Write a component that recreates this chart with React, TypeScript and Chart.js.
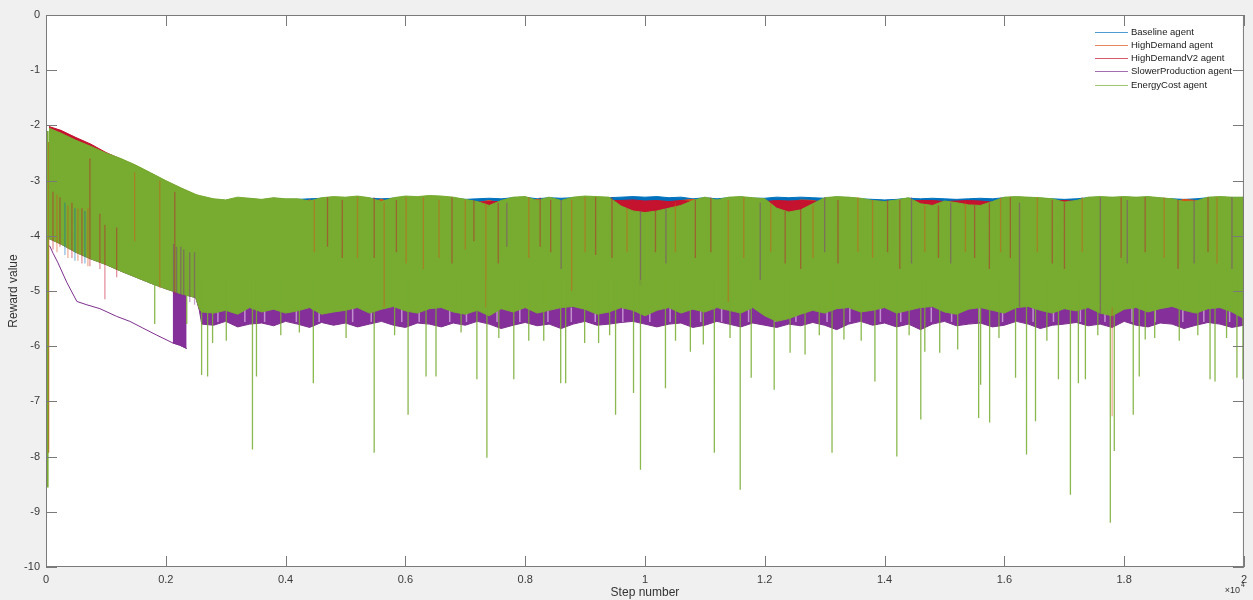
import React, { useEffect, useRef } from "react";
import { Chart, registerables } from "chart.js";

Chart.register(...registerables);

// ---------------- data ----------------
const SERIES_NAMES = [
  "Baseline agent",
  "HighDemand agent",
  "HighDemandV2 agent",
  "SlowerProduction agent",
  "EnergyCost agent",
];
const SERIES_COLORS = ["#0072BD", "#D95319", "#C4122F", "#7E2F8E", "#77AC30"];

const X_TICK_LABELS = ["0", "0.2", "0.4", "0.6", "0.8", "1", "1.2", "1.4", "1.6", "1.8", "2"];
const Y_TICK_LABELS = ["-10", "-9", "-8", "-7", "-6", "-5", "-4", "-3", "-2", "-1", "0"];

// envelope anchor steps
const STEPS = [
  50, 250, 500, 750, 1000, 1250, 1500, 1750, 2000, 2250, 2500, 2560, 2600,
  2800, 3000, 3200, 3400, 3600, 3800, 4000, 4200, 4400, 4600,
  4800, 5000, 5200, 5400, 5600, 5800, 6000, 6200, 6400, 6600,
  6800, 7000, 7200, 7400, 7600, 7800, 8000, 8200, 8400, 8600,
  8800, 9000, 9200, 9400, 9600, 9800, 10000, 10200, 10400, 10600,
  10800, 11000, 11200, 11400, 11600, 11800, 12000, 12200, 12400, 12600,
  12800, 13000, 13200, 13400, 13600, 13800, 14000, 14200, 14400, 14600,
  14800, 15000, 15200, 15400, 15600, 15800, 16000, 16200, 16400, 16600,
  16800, 17000, 17200, 17400, 17600, 17800, 18000, 18200, 18400, 18600,
  18800, 19000, 19200, 19400, 19600, 19800, 20000,
];

// EnergyCost agent: upper / lower envelope
const GREEN_HI = [
  -2.05, -2.14, -2.27, -2.38, -2.5, -2.6, -2.72, -2.86, -3.0, -3.13, -3.25, -3.27, -3.28,
  -3.33, -3.35, -3.3, -3.32, -3.34, -3.31, -3.33, -3.33, -3.37, -3.31,
  -3.29, -3.3, -3.28, -3.31, -3.38, -3.31, -3.28, -3.29, -3.27, -3.28,
  -3.3, -3.34, -3.38, -3.45, -3.36, -3.3, -3.29, -3.36, -3.3, -3.36,
  -3.3, -3.28, -3.29, -3.3, -3.46, -3.55, -3.58, -3.55, -3.5, -3.45,
  -3.36, -3.3, -3.35, -3.3, -3.29, -3.31, -3.33, -3.5, -3.57, -3.53,
  -3.42, -3.31, -3.29, -3.3, -3.32, -3.36, -3.38, -3.35, -3.31, -3.42,
  -3.45, -3.37, -3.4, -3.44, -3.45, -3.38, -3.3, -3.29, -3.3, -3.31,
  -3.33, -3.39, -3.36, -3.3, -3.29, -3.3, -3.29, -3.3, -3.29, -3.31,
  -3.33, -3.38, -3.37, -3.3, -3.29, -3.3, -3.3,
];
const GREEN_LO = [
  -4.05, -4.15, -4.3, -4.42, -4.52, -4.64, -4.75, -4.86, -4.96, -5.05, -5.12, -5.32, -5.38,
  -5.4, -5.35, -5.42, -5.3, -5.38, -5.33, -5.4, -5.36, -5.3, -5.42,
  -5.38, -5.35, -5.3, -5.4, -5.33, -5.28, -5.36, -5.4, -5.32, -5.3,
  -5.38, -5.42, -5.35, -5.45, -5.32, -5.38, -5.3, -5.4, -5.35, -5.3,
  -5.28, -5.33, -5.42, -5.38, -5.3, -5.35, -5.45, -5.35, -5.3, -5.4,
  -5.33, -5.38, -5.3, -5.35, -5.4, -5.3, -5.45, -5.55, -5.5, -5.42,
  -5.35, -5.4, -5.32, -5.3, -5.38, -5.35, -5.3, -5.4, -5.35, -5.3,
  -5.28, -5.38, -5.42, -5.33, -5.3, -5.35, -5.4, -5.3, -5.28, -5.35,
  -5.4, -5.32, -5.36, -5.3, -5.4, -5.45, -5.33, -5.3, -5.38, -5.32,
  -5.28, -5.35, -5.4, -5.32, -5.3, -5.38, -5.5,
];

// SlowerProduction agent: lower envelope
const PURPLE_LO = [
  -4.05, -4.15, -4.3, -4.42, -4.52, -4.64, -4.75, -4.86, -4.96, -5.05, -5.12, -5.35, -5.6,
  -5.62, -5.55, -5.65, -5.6, -5.58, -5.63, -5.55, -5.6, -5.66, -5.57,
  -5.62, -5.58, -5.65, -5.6, -5.55, -5.62, -5.66, -5.58, -5.6, -5.65,
  -5.58, -5.62, -5.55, -5.6, -5.68, -5.62, -5.57, -5.63, -5.6, -5.68,
  -5.6, -5.55, -5.62, -5.6, -5.57, -5.55, -5.6, -5.65, -5.6, -5.58,
  -5.66, -5.62, -5.55, -5.6, -5.65, -5.58, -5.62, -5.66, -5.6, -5.63,
  -5.57, -5.62, -5.7, -5.6, -5.55, -5.62, -5.58, -5.65, -5.6, -5.7,
  -5.6, -5.55, -5.63, -5.6, -5.58, -5.65, -5.62, -5.55, -5.6, -5.68,
  -5.62, -5.6, -5.57, -5.63, -5.6, -5.66, -5.55, -5.62, -5.65, -5.58,
  -5.6, -5.68, -5.62, -5.57, -5.6, -5.66, -5.62,
];
// early slow decline of SlowerProduction agent
const PURPLE_TREND_X = [60, 120, 200, 350, 516, 683, 900, 1180, 1400, 1615, 1850, 2115, 2230, 2348];
const PURPLE_TREND_Y = [-4.18, -4.32, -4.49, -4.85, -5.19, -5.25, -5.32, -5.46, -5.55, -5.67, -5.8, -5.94, -5.98, -6.04];
const PURPLE_BLOCK_X = [2115, 2230, 2348];
const PURPLE_BLOCK_HI = [-4.15, -4.25, -4.3];
const PURPLE_BLOCK_LO = [-5.94, -5.98, -6.04];
// steps where the SlowerProduction trace leaves its lower band (pale gaps)
const PURPLE_GAP_X = [
  2870, 3320, 3650, 4180, 4560, 5120, 5430, 5940, 6230, 6740,
  7020, 7530, 7910, 8380, 8770, 9170, 9630, 10080, 10420, 10930,
  11280, 11730, 12170, 12520, 13040, 13420, 13930, 14270, 14780, 15120,
  15580, 15970, 16480, 16820, 17270, 17680, 18130, 18520, 18980, 19330,
  19760,
];
const PURPLE_GAP_TOP = -5.3;
const PURPLE_GAP_BOT = -5.56;

// HighDemandV2, HighDemand, Baseline: upper envelopes
const RED_HI = [
  -2.02, -2.09, -2.22, -2.34, -2.49, -2.61, -2.73, -2.87, -3.01, -3.14, -3.26, -3.28, -3.29,
  -3.38, -3.4, -3.36, -3.37, -3.39, -3.36, -3.38, -3.38, -3.38, -3.37,
  -3.36, -3.37, -3.36, -3.38, -3.4, -3.37, -3.35, -3.36, -3.35, -3.36,
  -3.37, -3.38, -3.39, -3.38, -3.38, -3.36, -3.36, -3.38, -3.37, -3.38,
  -3.37, -3.36, -3.37, -3.36, -3.36, -3.35, -3.37, -3.36, -3.38, -3.36,
  -3.38, -3.37, -3.38, -3.37, -3.36, -3.37, -3.38, -3.36, -3.37, -3.36,
  -3.37, -3.38, -3.36, -3.37, -3.38, -3.37, -3.38, -3.38, -3.37, -3.36,
  -3.36, -3.38, -3.37, -3.36, -3.37, -3.39, -3.37, -3.36, -3.37, -3.38,
  -3.37, -3.36, -3.38, -3.37, -3.36, -3.37, -3.36, -3.37, -3.36, -3.38,
  -3.39, -3.4, -3.38, -3.37, -3.36, -3.37, -3.37,
];
const ORANGE_HI = [
  -2.1, -2.2, -2.32, -2.43, -2.54, -2.64, -2.76, -2.9, -3.04, -3.17, -3.29, -3.31, -3.32,
  -3.42, -3.42, -3.4, -3.41, -3.42, -3.4, -3.41, -3.42, -3.35, -3.41,
  -3.4, -3.41, -3.4, -3.4, -3.34, -3.41, -3.4, -3.41, -3.4, -3.4,
  -3.41, -3.42, -3.4, -3.36, -3.41, -3.4, -3.41, -3.34, -3.4, -3.41,
  -3.4, -3.41, -3.4, -3.41, -3.4, -3.41, -3.42, -3.4, -3.41, -3.36,
  -3.34, -3.4, -3.41, -3.4, -3.41, -3.4, -3.41, -3.4, -3.41, -3.35,
  -3.36, -3.41, -3.4, -3.41, -3.4, -3.41, -3.4, -3.41, -3.4, -3.36,
  -3.37, -3.4, -3.41, -3.4, -3.41, -3.4, -3.41, -3.4, -3.41, -3.4,
  -3.41, -3.36, -3.4, -3.41, -3.4, -3.41, -3.4, -3.41, -3.4, -3.41,
  -3.4, -3.34, -3.36, -3.41, -3.4, -3.41, -3.4,
];
const BLUE_HI = [
  -2.08, -2.18, -2.3, -2.41, -2.52, -2.62, -2.74, -2.88, -3.02, -3.15, -3.27, -3.29, -3.3,
  -3.34, -3.36, -3.32, -3.33, -3.35, -3.32, -3.34, -3.34, -3.33, -3.32,
  -3.31, -3.32, -3.3, -3.32, -3.33, -3.32, -3.3, -3.31, -3.29, -3.3,
  -3.32, -3.34, -3.33, -3.32, -3.33, -3.31, -3.3, -3.33, -3.31, -3.32,
  -3.31, -3.3, -3.31, -3.31, -3.3, -3.29, -3.3, -3.29, -3.31, -3.3,
  -3.33, -3.31, -3.33, -3.31, -3.3, -3.32, -3.32, -3.3, -3.31, -3.3,
  -3.31, -3.32, -3.3, -3.31, -3.33, -3.34, -3.35, -3.34, -3.32, -3.33,
  -3.32, -3.33, -3.34, -3.33, -3.32, -3.33, -3.31, -3.3, -3.31, -3.32,
  -3.33, -3.34, -3.33, -3.31, -3.3, -3.31, -3.3, -3.31, -3.3, -3.32,
  -3.33, -3.34, -3.33, -3.31, -3.3, -3.31, -3.31,
];

// first samples (start-up transient)
const GREEN_FIRST_X = [30, 30];
const GREEN_FIRST_Y = [-2.1, -8.56];
const ORANGE_FIRST_X = [42, 42];
const ORANGE_FIRST_Y = [-2.3, -7.93];

// EnergyCost agent downward spikes: step and minimum reward
const SPIKE_TOP = -4.8;
const GREEN_SPIKE_X = [
  1815, 2350, 2598, 2698, 2781, 3447, 3514, 4463, 5479, 6045,
  6345, 6511, 7194, 7361, 7810, 8060, 8593, 8676, 8993, 9226,
  9509, 9809, 9925, 10342, 10758, 10974, 11158, 11590, 11774, 12157,
  12423, 12673, 13123, 13322, 13839, 14205, 14605, 14672, 14921, 15221,
  15571, 15604, 15754, 16187, 16370, 16520, 16903, 17103, 17236, 17353,
  17769, 17835, 18152, 18252, 18352, 19434, 19517, 19883, 19983,
  3010, 3920, 4230, 5010, 5820, 6930, 7560, 8310, 9410, 10510,
  11420, 12910, 13610, 14410, 15910, 16710, 17560, 18510, 18920, 19230, 19710,
];
const GREEN_SPIKE_Y = [
  -5.6, -5.6, -6.52, -6.55, -5.94, -7.87, -6.55, -6.67, -7.93, -7.24,
  -6.55, -6.55, -6.6, -8.02, -6.6, -5.9, -6.67, -6.67, -5.94, -5.94,
  -7.24, -6.85, -8.24, -6.76, -6.1, -5.97, -7.93, -8.6, -6.57, -6.79,
  -6.12, -6.15, -7.93, -5.88, -6.64, -8.0, -7.33, -6.1, -6.12, -6.06,
  -7.3, -6.7, -7.38, -6.57, -7.96, -7.36, -6.6, -8.69, -6.67, -6.6,
  -9.2, -7.9, -7.24, -6.55, -5.88, -6.6, -6.64, -6.57, -6.6,
  -5.9, -5.8, -5.75, -5.85, -5.8, -5.75, -5.85, -5.9, -5.8, -5.9,
  -5.85, -5.8, -5.9, -5.8, -5.85, -5.9, -5.8, -5.85, -5.9, -5.8, -5.85,
];

// samples of the other agents showing through the EnergyCost trace
const STREAK_X = [
  117, 183, 233, 316, 366, 433, 483, 533, 600, 650,
  700, 733, 900, 983, 1180, 1480, 1900, 2150, 2130, 2180,
  2250, 2300, 2400, 2480, 4480, 4946, 5479, 5646, 6012, 6561,
  6778, 7144, 7344, 7694, 8060, 8426, 8776, 9176, 9925, 10175,
  10508, 10841, 11391, 11924, 12340, 12806, 13222, 13555, 14255, 14672,
  15104, 15504, 15937, 16253, 17003, 17603, 17800, 18052, 18669, 19168,
  19550, 4700, 5200, 5850, 6300, 7000, 7550, 8250, 8600, 9000,
  9450, 9700, 10350, 11100, 11650, 12100, 12600, 13000, 13800, 14050,
  14450, 14900, 15350, 15750, 16100, 16550, 16800, 17300, 17950, 18350,
  18900, 19400, 19800,
];
const STREAK_TOP = [
  -3.2, -3.25, -3.3, -3.4, -3.45, -3.4, -3.5, -3.5, -3.5, -3.55,
  -3.5, -2.6, -3.6, -3.8, -3.85, -2.85, -3.0, -3.2, -4.15, -4.2,
  -4.2, -4.25, -4.3, -4.3, -3.35, -3.35, -3.3, -3.4, -3.3, -3.35,
  -3.3, -3.35, -3.4, -3.4, -3.3, -3.35, -3.35, -3.3, -3.55, -3.5,
  -3.4, -3.35, -3.35, -3.4, -3.55, -3.45, -3.35, -3.3, -3.35, -3.45,
  -3.4, -3.45, -3.3, -3.4, -3.4, -3.3, -5.3, -3.35, -3.3, -3.35,
  -3.3, -3.3, -3.3, -3.35, -3.3, -3.35, -3.4, -3.3, -3.35, -3.3,
  -3.3, -3.5, -3.5, -3.3, -3.3, -3.4, -3.5, -3.3, -3.35, -3.35,
  -3.3, -3.45, -3.4, -3.4, -3.3, -3.3, -3.35, -3.3, -3.3, -3.3,
  -3.35, -3.3, -3.3,
];
const STREAK_BOT = [
  -4.25, -4.3, -4.2, -4.35, -4.4, -4.4, -4.45, -4.45, -4.5, -4.5,
  -4.55, -4.55, -4.6, -5.15, -4.75, -4.1, -4.95, -5.05, -5.05, -5.1,
  -5.1, -5.1, -5.2, -5.25, -4.3, -4.4, -4.4, -5.3, -4.5, -4.4,
  -4.5, -4.1, -5.3, -4.2, -4.4, -4.3, -5.0, -4.35, -4.9, -4.3,
  -4.3, -4.4, -5.2, -4.8, -4.5, -4.4, -4.5, -4.3, -4.6, -4.3,
  -4.5, -4.4, -4.3, -5.3, -4.6, -5.4, -7.27, -4.5, -4.4, -4.5,
  -4.5, -4.2, -4.4, -4.3, -4.6, -4.25, -4.5, -4.2, -4.6, -4.3,
  -4.4, -4.3, -4.5, -4.3, -4.4, -4.3, -4.6, -4.3, -4.4, -4.3,
  -4.5, -4.4, -4.3, -4.6, -4.4, -4.3, -4.5, -4.3, -4.4, -4.3,
  -4.6, -4.3, -4.6,
];
const STREAK_AGENT = [
  2, 1, 2, 0, 1, 2, 0, 1, 2, 0,
  1, 2, 2, 2, 2, 1, 1, 2, 3, 3,
  3, 3, 3, 3, 1, 2, 2, 1, 1, 1,
  2, 2, 1, 3, 1, 2, 1, 2, 3, 2,
  1, 2, 1, 3, 2, 1, 2, 1, 2, 1,
  3, 2, 1, 3, 2, 3, 1, 3, 1, 3,
  1, 2, 1, 2, 1, 1, 2, 2, 3, 1,
  2, 1, 3, 2, 1, 1, 2, 3, 1, 2,
  3, 2, 1, 2, 2, 1, 2, 1, 2, 2,
  2, 2, 3,
];

// ---------------- helpers ----------------
const FONT = "'Liberation Sans', Arial, Helvetica, sans-serif";
const TICK_LEN = 11;

type P = { x: number; y: number | null };
function pts(xs: number[], ys: number[]): P[] {
  return xs.map((x, i) => ({ x, y: ys[i] }));
}
function segs(xs: number[], tops: number[], bots: number[]): P[] {
  const out: P[] = [];
  xs.forEach((x, i) => {
    out.push({ x, y: tops[i] }, { x, y: bots[i] }, { x, y: null });
  });
  return out;
}
function rgba(hex: string, a: number) {
  const n = parseInt(hex.slice(1), 16);
  return `rgba(${(n >> 16) & 255},${(n >> 8) & 255},${n & 255},${a})`;
}

const framePlugin = {
  id: "matlabFrame",
  beforeDraw(chart: any) {
    const { ctx, chartArea: a, width, height } = chart;
    ctx.save();
    ctx.fillStyle = "#f0f0f0";
    ctx.fillRect(0, 0, width, height);
    ctx.fillStyle = "#ffffff";
    ctx.fillRect(a.left, a.top, a.right - a.left, a.bottom - a.top);
    ctx.restore();
  },
  afterDraw(chart: any) {
    const { ctx, chartArea: a } = chart;
    const xs = chart.scales.x;
    const ys = chart.scales.y;
    ctx.save();
    ctx.strokeStyle = "#7a7a7a";
    ctx.lineWidth = 1;
    ctx.strokeRect(a.left + 0.5, a.top + 0.5, a.right - a.left - 1, a.bottom - a.top - 1);
    ctx.beginPath();
    xs.ticks.forEach((_t: any, i: number) => {
      const px = Math.round(xs.getPixelForTick(i)) + 0.5;
      ctx.moveTo(px, a.bottom);
      ctx.lineTo(px, a.bottom - TICK_LEN);
      ctx.moveTo(px, a.top);
      ctx.lineTo(px, a.top + TICK_LEN);
    });
    ys.ticks.forEach((_t: any, i: number) => {
      const py = Math.round(ys.getPixelForTick(i)) + 0.5;
      ctx.moveTo(a.left, py);
      ctx.lineTo(a.left + TICK_LEN, py);
      ctx.moveTo(a.right, py);
      ctx.lineTo(a.right - TICK_LEN, py);
    });
    ctx.stroke();

    // legend
    ctx.font = `9.5px ${FONT}`;
    ctx.textBaseline = "middle";
    ctx.textAlign = "left";
    SERIES_NAMES.forEach((name, i) => {
      const y = Math.round(31.5 + i * 13.3) + 0.5;
      ctx.strokeStyle = rgba(SERIES_COLORS[i], 0.7);
      ctx.lineWidth = 1.2;
      ctx.beginPath();
      ctx.moveTo(1095, y);
      ctx.lineTo(1128, y);
      ctx.stroke();
      ctx.fillStyle = "#1a1a1a";
      ctx.fillText(name, 1131, y);
    });

    // axis titles
    ctx.fillStyle = "#333333";
    ctx.font = `12px ${FONT}`;
    ctx.textAlign = "center";
    ctx.textBaseline = "middle";
    ctx.fillText("Step number", (a.left + a.right) / 2, 593);
    ctx.save();
    ctx.translate(14, (a.top + a.bottom) / 2);
    ctx.rotate(-Math.PI / 2);
    ctx.fillText("Reward value", 0, 0);
    ctx.restore();

    // exponent
    ctx.textAlign = "right";
    ctx.font = `9px ${FONT}`;
    ctx.fillText("\u00d710", 1240, 591);
    ctx.textAlign = "left";
    ctx.font = `7px ${FONT}`;
    ctx.fillText("4", 1241, 585);
    ctx.restore();
  },
};

export default function App() {
  const ref = useRef<HTMLCanvasElement | null>(null);

  useEffect(() => {
    const canvas = ref.current;
    if (!canvas) return;
    const [BLUE, ORANGE, RED, PURPLE, GREEN] = SERIES_COLORS;
    const line = { pointRadius: 0, borderWidth: 1, tension: 0 };

    const datasets: any[] = [
      // EnergyCost agent (top layer)
      { ...line, label: SERIES_NAMES[4], data: pts(STEPS, GREEN_HI), borderColor: GREEN, backgroundColor: GREEN, fill: "+1", order: 1 },
      { ...line, label: "EnergyCost lower", data: pts(STEPS, GREEN_LO), borderColor: GREEN, fill: false, order: 1 },
      { ...line, label: "EnergyCost start", data: pts(GREEN_FIRST_X, GREEN_FIRST_Y), borderColor: GREEN, borderWidth: 1.6, fill: false, order: 1 },
      { ...line, label: "EnergyCost dips", data: segs(GREEN_SPIKE_X, GREEN_SPIKE_X.map(() => SPIKE_TOP), GREEN_SPIKE_Y), borderColor: rgba(GREEN, 0.85), borderWidth: 1.3, fill: false, spanGaps: false, order: 0 },
      // SlowerProduction agent
      { ...line, label: SERIES_NAMES[3], data: pts(STEPS, PURPLE_LO), borderColor: PURPLE, backgroundColor: "#85309A", fill: { value: -3.8 }, order: 2 },
      { ...line, label: "SlowerProduction gaps", data: segs(PURPLE_GAP_X, PURPLE_GAP_X.map(() => PURPLE_GAP_TOP), PURPLE_GAP_X.map(() => PURPLE_GAP_BOT)), borderColor: "rgba(205,160,215,0.85)", borderWidth: 1.5, fill: false, spanGaps: false, order: 1.5 },
      { ...line, label: "SlowerProduction trend", data: pts(PURPLE_TREND_X, PURPLE_TREND_Y), borderColor: PURPLE, fill: false, order: 2 },
      { ...line, label: "SlowerProduction block", data: pts(PURPLE_BLOCK_X, PURPLE_BLOCK_HI), borderColor: PURPLE, backgroundColor: "#85309A", fill: "+1", order: 2 },
      { ...line, label: "SlowerProduction block lower", data: pts(PURPLE_BLOCK_X, PURPLE_BLOCK_LO), borderColor: PURPLE, fill: false, order: 2 },
      // HighDemandV2 agent
      { ...line, label: SERIES_NAMES[2], data: pts(STEPS, RED_HI), borderColor: RED, backgroundColor: RED, fill: { value: -3.95 }, order: 3 },
      // HighDemand agent
      { ...line, label: SERIES_NAMES[1], data: pts(STEPS, ORANGE_HI), borderColor: ORANGE, backgroundColor: ORANGE, fill: { value: -3.95 }, order: 4 },
      { ...line, label: "HighDemand start", data: pts(ORANGE_FIRST_X, ORANGE_FIRST_Y), borderColor: ORANGE, borderWidth: 1.4, fill: false, order: 4 },
      // Baseline agent
      { ...line, label: SERIES_NAMES[0], data: pts(STEPS, BLUE_HI), borderColor: BLUE, backgroundColor: BLUE, fill: { value: -3.95 }, order: 5 },
    ];

    [0, 1, 2, 3].forEach((agent) => {
      const idx = STREAK_X.map((_, i) => i).filter((i) => STREAK_AGENT[i] === agent);
      datasets.push({
        ...line,
        label: SERIES_NAMES[agent] + " samples",
        data: segs(idx.map((i) => STREAK_X[i]), idx.map((i) => STREAK_TOP[i]), idx.map((i) => STREAK_BOT[i])),
        borderColor: rgba(SERIES_COLORS[agent], 0.45),
        borderWidth: 1.3,
        fill: false,
        spanGaps: false,
        order: 0,
      });
    });

    const chart = new Chart(canvas, {
      type: "line",
      data: { datasets },
      options: {
        animation: false,
        responsive: false,
        devicePixelRatio: 1,
        events: [],
        layout: { padding: { left: 0, top: 15, right: 6, bottom: 0 } },
        plugins: {
          legend: { display: false },
          tooltip: { enabled: false },
        },
        scales: {
          x: {
            type: "linear",
            min: 0,
            max: 20000,
            grid: { display: false, drawTicks: false },
            border: { display: false },
            ticks: {
              stepSize: 2000,
              autoSkip: false,
              maxRotation: 0,
              padding: 6,
              color: "#3a3a3a",
              font: { family: FONT, size: 11 },
              callback: (_v: any, i: number) => X_TICK_LABELS[i],
            },
            afterFit: (s: any) => {
              s.height = 33;
            },
          },
          y: {
            type: "linear",
            min: -10,
            max: 0,
            grid: { display: false, drawTicks: false },
            border: { display: false },
            ticks: {
              stepSize: 1,
              autoSkip: false,
              padding: 6,
              color: "#3a3a3a",
              font: { family: FONT, size: 11 },
              callback: (_v: any, i: number) => Y_TICK_LABELS[i],
            },
            afterFit: (s: any) => {
              s.width = 46;
            },
          },
        },
      } as any,
      plugins: [framePlugin],
    });

    return () => chart.destroy();
  }, []);

  return (
    <div style={{ position: "absolute", left: 0, top: 0, width: 1253, height: 600, background: "#f0f0f0" }}>
      <canvas ref={ref} width={1253} height={600} style={{ display: "block", width: 1253, height: 600 }} />
    </div>
  );
}
